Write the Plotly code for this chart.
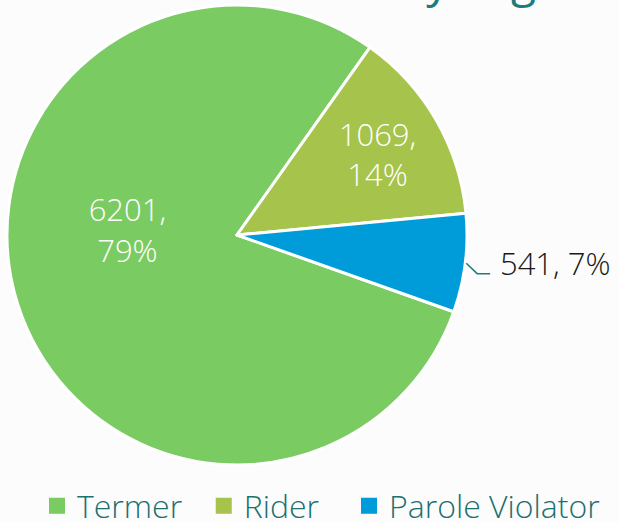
import math
import plotly.graph_objects as go

categories = ["Termer", "Rider", "Parole Violator"]
values = [6201, 1069, 541]
colors = ["#7BCB63", "#A6C34B", "#009CD9"]
title_text = "by Legal Status"

W, H = 619, 522
ROTATION = 109.5
# pie box in pixels
PIE_X0, PIE_X1, PIE_Y0, PIE_Y1 = 7, 467, 5, 465

total = sum(values)
pcts = [round(v / total * 100) for v in values]
texts = [f"{v},<br>{p}%" for v, p in zip(values, pcts)]
# big slice label sits higher in the reference: pad with blank lines
texts[0] = texts[0] + "<br> <br> "
texts[2] = f"&nbsp;&nbsp;&nbsp;{values[2]}, {pcts[2]}%"

FONT = "Open Sans"

fig = go.Figure()
fig.add_trace(
    go.Pie(
        labels=categories,
        values=values,
        sort=False,
        direction="clockwise",
        rotation=ROTATION,
        marker=dict(colors=colors, line=dict(color="white", width=3)),
        text=texts,
        textinfo="text",
        textposition=["inside", "inside", "outside"],
        insidetextorientation="horizontal",
        insidetextfont=dict(color="white", size=31, family=FONT, weight=300),
        outsidetextfont=dict(color="#1a1a1a", size=31, family=FONT, weight=300),
        domain=dict(x=[PIE_X0 / W, PIE_X1 / W], y=[1 - PIE_Y1 / H, 1 - PIE_Y0 / H]),
        hoverinfo="skip",
        showlegend=False,
    )
)

# leader line for the outside label, derived from the slice's mid-angle
cx, cy = (PIE_X0 + PIE_X1) / 2, (PIE_Y0 + PIE_Y1) / 2
R = min(PIE_X1 - PIE_X0, PIE_Y1 - PIE_Y0) / 2
start = ROTATION + sum(values[:2]) / total * 360
mid = math.radians(start + values[2] / total * 360 / 2)
p1 = (cx + (R + 1) * math.sin(mid), cy - (R + 1) * math.cos(mid))
p2 = (cx + (R + 12) * math.sin(mid), cy - (R + 12) * math.cos(mid) + 9)
p3 = (p2[0] + 13, p2[1])
path = "M {} {} L {} {} L {} {}".format(
    p1[0] / W, 1 - p1[1] / H, p2[0] / W, 1 - p2[1] / H, p3[0] / W, 1 - p3[1] / H
)
fig.add_shape(type="path", xref="paper", yref="paper", path=path,
              line=dict(color="#1B7B7D", width=1.5))

# legend entries with large square swatches
pads = ["&nbsp;&nbsp;", "&nbsp;&nbsp;&nbsp;", ""]
for name, col, pad in zip(categories, colors, pads):
    fig.add_trace(
        go.Scatter(
            x=[None], y=[None], mode="markers", name=name + pad,
            marker=dict(symbol="square", size=18, color=col),
            hoverinfo="skip",
        )
    )

fig.add_annotation(
    text=title_text,
    xref="paper", yref="paper",
    x=396 / W, y=1.0,
    xanchor="left", yanchor="top",
    yshift=54,
    showarrow=False,
    font=dict(size=46, color="#1B7B7D", family=FONT),
)

fig.update_layout(
    width=W,
    height=H,
    margin=dict(l=0, r=0, t=0, b=0, autoexpand=False),
    paper_bgcolor="#FCFCFC",
    plot_bgcolor="#FCFCFC",
    showlegend=True,
    xaxis=dict(visible=False),
    yaxis=dict(visible=False),
    legend=dict(
        orientation="h",
        x=37 / W, xanchor="left",
        y=-0.022, yanchor="bottom",
        font=dict(size=32, color="#1B7070", family=FONT, weight=300),
        itemsizing="trace",
        traceorder="normal",
        bgcolor="rgba(0,0,0,0)",
    ),
)

fig.write_html("out.html")
